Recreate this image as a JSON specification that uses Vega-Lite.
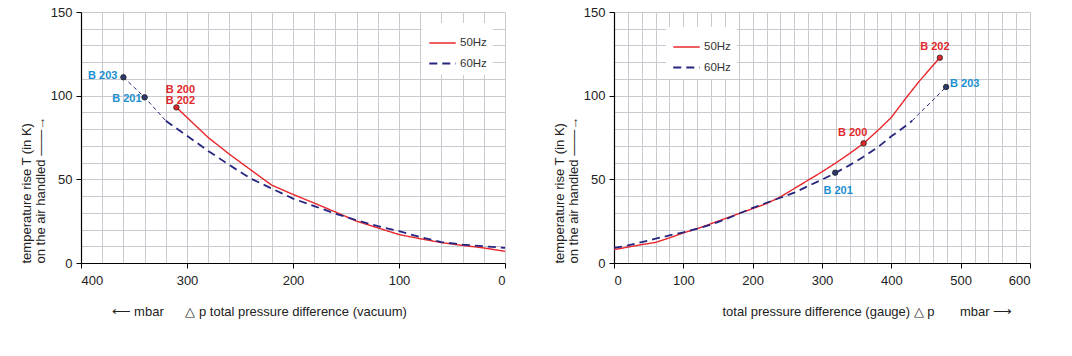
{
  "$schema": "https://vega.github.io/schema/vega-lite/v6.json",
  "padding": {"left": 20, "top": 6, "right": 5, "bottom": 5},
  "spacing": 44,
  "config": {
    "font": "Liberation Sans",
    "view": {"stroke": null},
    "axis": {
      "grid": true,
      "gridColor": "#c9c9d0",
      "gridWidth": 1,
      "domainColor": "#000000",
      "domainWidth": 1.2,
      "tickColor": "#000000",
      "tickSize": 5,
      "labelFontSize": 13,
      "labelColor": "#222222",
      "titleFontSize": 13,
      "titleFontWeight": "normal",
      "titleColor": "#222222"
    },
    "legend": {
      "orient": "none",
      "fillColor": "white",
      "padding": 6,
      "labelFontSize": 11.5,
      "labelColor": "#333333",
      "labelOffset": 3,
      "symbolStrokeWidth": 2,
      "symbolSize": 700,
      "rowPadding": -4
    }
  },
  "datasets": {
    "vac": [
      {"freq": "50Hz", "seg": "main", "dp": 310, "T": 93},
      {"freq": "50Hz", "seg": "main", "dp": 280, "T": 75},
      {"freq": "50Hz", "seg": "main", "dp": 260, "T": 65},
      {"freq": "50Hz", "seg": "main", "dp": 240, "T": 55.7},
      {"freq": "50Hz", "seg": "main", "dp": 220, "T": 46.5},
      {"freq": "50Hz", "seg": "main", "dp": 200, "T": 41},
      {"freq": "50Hz", "seg": "main", "dp": 180, "T": 35.8},
      {"freq": "50Hz", "seg": "main", "dp": 160, "T": 30.5},
      {"freq": "50Hz", "seg": "main", "dp": 140, "T": 25},
      {"freq": "50Hz", "seg": "main", "dp": 120, "T": 21},
      {"freq": "50Hz", "seg": "main", "dp": 100, "T": 17},
      {"freq": "50Hz", "seg": "main", "dp": 80, "T": 14.5},
      {"freq": "50Hz", "seg": "main", "dp": 60, "T": 12.2},
      {"freq": "50Hz", "seg": "main", "dp": 40, "T": 10.5},
      {"freq": "50Hz", "seg": "main", "dp": 20, "T": 9},
      {"freq": "50Hz", "seg": "main", "dp": 0, "T": 7},
      {"freq": "60Hz", "seg": "ext", "dp": 360, "T": 111},
      {"freq": "60Hz", "seg": "ext", "dp": 340, "T": 99},
      {"freq": "60Hz", "seg": "ext", "dp": 320, "T": 85},
      {"freq": "60Hz", "seg": "main", "dp": 320, "T": 85},
      {"freq": "60Hz", "seg": "main", "dp": 300, "T": 76},
      {"freq": "60Hz", "seg": "main", "dp": 280, "T": 67},
      {"freq": "60Hz", "seg": "main", "dp": 260, "T": 58.5},
      {"freq": "60Hz", "seg": "main", "dp": 240, "T": 50.5},
      {"freq": "60Hz", "seg": "main", "dp": 220, "T": 44.5},
      {"freq": "60Hz", "seg": "main", "dp": 200, "T": 38.5},
      {"freq": "60Hz", "seg": "main", "dp": 180, "T": 34},
      {"freq": "60Hz", "seg": "main", "dp": 160, "T": 29.5},
      {"freq": "60Hz", "seg": "main", "dp": 140, "T": 25.5},
      {"freq": "60Hz", "seg": "main", "dp": 120, "T": 22},
      {"freq": "60Hz", "seg": "main", "dp": 100, "T": 19},
      {"freq": "60Hz", "seg": "main", "dp": 80, "T": 15.5},
      {"freq": "60Hz", "seg": "main", "dp": 60, "T": 12.5},
      {"freq": "60Hz", "seg": "main", "dp": 40, "T": 11},
      {"freq": "60Hz", "seg": "main", "dp": 20, "T": 10},
      {"freq": "60Hz", "seg": "main", "dp": 0, "T": 9}
    ],
    "gauge": [
      {"freq": "50Hz", "seg": "main", "dp": 0, "T": 8},
      {"freq": "50Hz", "seg": "main", "dp": 20, "T": 9.5},
      {"freq": "50Hz", "seg": "main", "dp": 40, "T": 11},
      {"freq": "50Hz", "seg": "main", "dp": 60, "T": 12.3},
      {"freq": "50Hz", "seg": "main", "dp": 80, "T": 15},
      {"freq": "50Hz", "seg": "main", "dp": 100, "T": 18},
      {"freq": "50Hz", "seg": "main", "dp": 120, "T": 20.5},
      {"freq": "50Hz", "seg": "main", "dp": 140, "T": 23.5},
      {"freq": "50Hz", "seg": "main", "dp": 160, "T": 26.5},
      {"freq": "50Hz", "seg": "main", "dp": 180, "T": 29.5},
      {"freq": "50Hz", "seg": "main", "dp": 200, "T": 32.5},
      {"freq": "50Hz", "seg": "main", "dp": 220, "T": 35.5},
      {"freq": "50Hz", "seg": "main", "dp": 240, "T": 39.5},
      {"freq": "50Hz", "seg": "main", "dp": 260, "T": 44.5},
      {"freq": "50Hz", "seg": "main", "dp": 280, "T": 49.5},
      {"freq": "50Hz", "seg": "main", "dp": 300, "T": 54.5},
      {"freq": "50Hz", "seg": "main", "dp": 320, "T": 59.8},
      {"freq": "50Hz", "seg": "main", "dp": 340, "T": 65.5},
      {"freq": "50Hz", "seg": "main", "dp": 360, "T": 71.5},
      {"freq": "50Hz", "seg": "main", "dp": 380, "T": 79},
      {"freq": "50Hz", "seg": "main", "dp": 400, "T": 87},
      {"freq": "50Hz", "seg": "main", "dp": 420, "T": 98},
      {"freq": "50Hz", "seg": "main", "dp": 440, "T": 108.5},
      {"freq": "50Hz", "seg": "main", "dp": 460, "T": 118},
      {"freq": "50Hz", "seg": "main", "dp": 470, "T": 122.7},
      {"freq": "60Hz", "seg": "main", "dp": 0, "T": 9},
      {"freq": "60Hz", "seg": "main", "dp": 20, "T": 10.5},
      {"freq": "60Hz", "seg": "main", "dp": 40, "T": 12.5},
      {"freq": "60Hz", "seg": "main", "dp": 60, "T": 14.5},
      {"freq": "60Hz", "seg": "main", "dp": 80, "T": 16.5},
      {"freq": "60Hz", "seg": "main", "dp": 100, "T": 18.3},
      {"freq": "60Hz", "seg": "main", "dp": 120, "T": 20.5},
      {"freq": "60Hz", "seg": "main", "dp": 140, "T": 23},
      {"freq": "60Hz", "seg": "main", "dp": 160, "T": 26},
      {"freq": "60Hz", "seg": "main", "dp": 180, "T": 29.5},
      {"freq": "60Hz", "seg": "main", "dp": 200, "T": 32.9},
      {"freq": "60Hz", "seg": "main", "dp": 220, "T": 36},
      {"freq": "60Hz", "seg": "main", "dp": 240, "T": 39},
      {"freq": "60Hz", "seg": "main", "dp": 260, "T": 42},
      {"freq": "60Hz", "seg": "main", "dp": 280, "T": 46},
      {"freq": "60Hz", "seg": "main", "dp": 300, "T": 49.8},
      {"freq": "60Hz", "seg": "main", "dp": 320, "T": 54},
      {"freq": "60Hz", "seg": "main", "dp": 340, "T": 58.5},
      {"freq": "60Hz", "seg": "main", "dp": 360, "T": 63.5},
      {"freq": "60Hz", "seg": "main", "dp": 380, "T": 69},
      {"freq": "60Hz", "seg": "main", "dp": 400, "T": 75.7},
      {"freq": "60Hz", "seg": "main", "dp": 420, "T": 81.7},
      {"freq": "60Hz", "seg": "main", "dp": 430, "T": 85},
      {"freq": "60Hz", "seg": "ext", "dp": 430, "T": 85},
      {"freq": "60Hz", "seg": "ext", "dp": 440, "T": 89.3},
      {"freq": "60Hz", "seg": "ext", "dp": 460, "T": 97.3},
      {"freq": "60Hz", "seg": "ext", "dp": 479, "T": 105.2}
    ],
    "vacpts": [
      {"label": "B 203", "freq": "60Hz", "dp": 360, "T": 111},
      {"label": "B 201", "freq": "60Hz", "dp": 340, "T": 99},
      {"label": "B 200\nB 202", "freq": "50Hz", "dp": 310, "T": 93}
    ],
    "gaugepts": [
      {"label": "B 202", "freq": "50Hz", "dp": 470, "T": 122.7},
      {"label": "B 200", "freq": "50Hz", "dp": 360, "T": 71.5},
      {"label": "B 201", "freq": "60Hz", "dp": 319, "T": 54},
      {"label": "B 203", "freq": "60Hz", "dp": 479, "T": 105.2}
    ]
  },
  "resolve": {
    "scale": {"x": "independent", "y": "independent", "color": "independent", "strokeDash": "independent", "strokeWidth": "independent"},
    "legend": {"color": "independent", "strokeDash": "independent"}
  },
  "hconcat": [
    {
      "width": 424,
      "height": 251,
      "encoding": {
        "x": {
          "field": "dp", "type": "quantitative",
          "scale": {"domain": [0, 400], "reverse": true, "nice": false},
          "axis": {
            "values": [0,20,40,60,80,100,120,140,160,180,200,220,240,260,280,300,320,340,360,380,400],
            "labelExpr": "datum.value % 100 === 0 ? datum.label : ''",
            "tickOpacity": {"condition": {"test": "datum.value % 100 === 0", "value": 1}, "value": 0},
            "labelPadding": 6,
            "title": "⟵ mbar\u00a0\u00a0\u00a0\u00a0\u00a0\u00a0△ p total pressure difference (vacuum)",
            "titleX": 30,
            "titleAlign": "left",
            "titlePadding": 18
          }
        },
        "y": {
          "field": "T", "type": "quantitative",
          "scale": {"domain": [0, 150], "nice": false},
          "axis": {
            "values": [0,10,20,30,40,50,60,70,80,90,100,110,120,130,140,150],
            "labelExpr": "datum.value % 50 === 0 ? datum.label : ''",
            "tickOpacity": {"condition": {"test": "datum.value % 50 === 0", "value": 1}, "value": 0},
            "labelPadding": 4,
            "title": ["temperature rise T (in K)", "on the air handled ——→"],
            "titleAnchor": "start",
            "titlePadding": 3,
            "titleLineHeight": 14
          }
        }
      },
      "layer": [
        {
          "data": {"name": "vac"},
          "transform": [{"filter": "datum.seg === 'main'"}],
          "mark": {"type": "line"},
          "encoding": {
            "color": {"field": "freq", "type": "nominal", "scale": {"domain": ["50Hz", "60Hz"], "range": ["#e8262b", "#262680"]}, "legend": {"title": null, "legendX": 341, "legendY": 11}},
            "strokeDash": {"field": "freq", "type": "nominal", "scale": {"domain": ["50Hz", "60Hz"], "range": [[1, 0], [8, 5]]}, "legend": {"title": null, "legendX": 341, "legendY": 11}},
            "strokeWidth": {"field": "freq", "type": "nominal", "scale": {"domain": ["50Hz", "60Hz"], "range": [1.4, 1.8]}, "legend": null}
          }
        },
        {
          "data": {"name": "vac"},
          "transform": [{"filter": "datum.seg === 'ext'"}],
          "mark": {"type": "line", "color": "#262680", "strokeWidth": 1, "strokeDash": [4, 3]},
          "encoding": {}
        },
        {
          "data": {"name": "vacpts"},
          "mark": {"type": "point", "filled": true, "size": 30, "stroke": "#222222", "strokeWidth": 0.8, "opacity": 1},
          "encoding": {
            "fill": {"condition": {"test": "datum.freq === '50Hz'", "value": "#e0282d"}, "value": "#2a3a6e"}
          }
        },
        {
          "data": {"name": "vacpts"},
          "transform": [{"filter": "datum.label === 'B 203'"}],
          "mark": {"type": "text", "align": "right", "baseline": "middle", "dx": -6, "dy": -1, "fontWeight": "bold", "fontSize": 11, "color": "#1d8fd1"},
          "encoding": {"text": {"field": "label"}}
        },
        {
          "data": {"name": "vacpts"},
          "transform": [{"filter": "datum.label === 'B 201'"}],
          "mark": {"type": "text", "align": "right", "baseline": "middle", "dx": -3, "dy": 2, "fontWeight": "bold", "fontSize": 11, "color": "#1d8fd1"},
          "encoding": {"text": {"field": "label"}}
        },
        {
          "data": {"name": "vacpts"},
          "transform": [{"filter": "datum.freq === '50Hz'"}],
          "mark": {"type": "text", "align": "center", "baseline": "bottom", "dx": 4, "dy": -12, "lineBreak": "\n", "lineHeight": 11, "fontWeight": "bold", "fontSize": 11, "color": "#e0282d"},
          "encoding": {"text": {"field": "label"}}
        }
      ]
    },
    {
      "width": 416,
      "height": 251,
      "encoding": {
        "x": {
          "field": "dp", "type": "quantitative",
          "scale": {"domain": [0, 600], "nice": false},
          "axis": {
            "values": [0,20,40,60,80,100,120,140,160,180,200,220,240,260,280,300,320,340,360,380,400,420,440,460,480,500,520,540,560,580,600],
            "labelExpr": "datum.value % 100 === 0 ? datum.label : ''",
            "tickOpacity": {"condition": {"test": "datum.value % 100 === 0", "value": 1}, "value": 0},
            "labelPadding": 6,
            "title": "total pressure difference (gauge) △ p\u00a0\u00a0\u00a0\u00a0\u00a0\u00a0\u00a0mbar ⟶",
            "titleX": 108,
            "titleAlign": "left",
            "titlePadding": 18
          }
        },
        "y": {
          "field": "T", "type": "quantitative",
          "scale": {"domain": [0, 150], "nice": false},
          "axis": {
            "values": [0,10,20,30,40,50,60,70,80,90,100,110,120,130,140,150],
            "labelExpr": "datum.value % 50 === 0 ? datum.label : ''",
            "tickOpacity": {"condition": {"test": "datum.value % 50 === 0", "value": 1}, "value": 0},
            "labelPadding": 4,
            "title": ["temperature rise T (in K)", "on the air handled ——→"],
            "titleAnchor": "start",
            "titlePadding": 3,
            "titleLineHeight": 14
          }
        }
      },
      "layer": [
        {
          "data": {"name": "gauge"},
          "transform": [{"filter": "datum.seg === 'main'"}],
          "mark": {"type": "line"},
          "encoding": {
            "color": {"field": "freq", "type": "nominal", "scale": {"domain": ["50Hz", "60Hz"], "range": ["#e8262b", "#262680"]}, "legend": {"title": null, "legendX": 52, "legendY": 15}},
            "strokeDash": {"field": "freq", "type": "nominal", "scale": {"domain": ["50Hz", "60Hz"], "range": [[1, 0], [8, 5]]}, "legend": {"title": null, "legendX": 52, "legendY": 15}},
            "strokeWidth": {"field": "freq", "type": "nominal", "scale": {"domain": ["50Hz", "60Hz"], "range": [1.4, 1.8]}, "legend": null}
          }
        },
        {
          "data": {"name": "gauge"},
          "transform": [{"filter": "datum.seg === 'ext'"}],
          "mark": {"type": "line", "color": "#262680", "strokeWidth": 1, "strokeDash": [4, 3]},
          "encoding": {}
        },
        {
          "data": {"name": "gaugepts"},
          "mark": {"type": "point", "filled": true, "size": 30, "stroke": "#222222", "strokeWidth": 0.8, "opacity": 1},
          "encoding": {
            "fill": {"condition": {"test": "datum.freq === '50Hz'", "value": "#e0282d"}, "value": "#2a3a6e"}
          }
        },
        {
          "data": {"name": "gaugepts"},
          "transform": [{"filter": "datum.label === 'B 202'"}],
          "mark": {"type": "text", "align": "center", "baseline": "bottom", "dx": -5, "dy": -6, "fontWeight": "bold", "fontSize": 11, "color": "#e0282d"},
          "encoding": {"text": {"field": "label"}}
        },
        {
          "data": {"name": "gaugepts"},
          "transform": [{"filter": "datum.label === 'B 200'"}],
          "mark": {"type": "text", "align": "center", "baseline": "bottom", "dx": -11, "dy": -5, "fontWeight": "bold", "fontSize": 11, "color": "#e0282d"},
          "encoding": {"text": {"field": "label"}}
        },
        {
          "data": {"name": "gaugepts"},
          "transform": [{"filter": "datum.label === 'B 203'"}],
          "mark": {"type": "text", "align": "left", "baseline": "middle", "dx": 4, "dy": -3, "fontWeight": "bold", "fontSize": 11, "color": "#1d8fd1"},
          "encoding": {"text": {"field": "label"}}
        },
        {
          "data": {"name": "gaugepts"},
          "transform": [{"filter": "datum.label === 'B 201'"}],
          "mark": {"type": "text", "align": "center", "baseline": "top", "dx": 3, "dy": 12, "fontWeight": "bold", "fontSize": 11, "color": "#1d8fd1"},
          "encoding": {"text": {"field": "label"}}
        }
      ]
    }
  ]
}
